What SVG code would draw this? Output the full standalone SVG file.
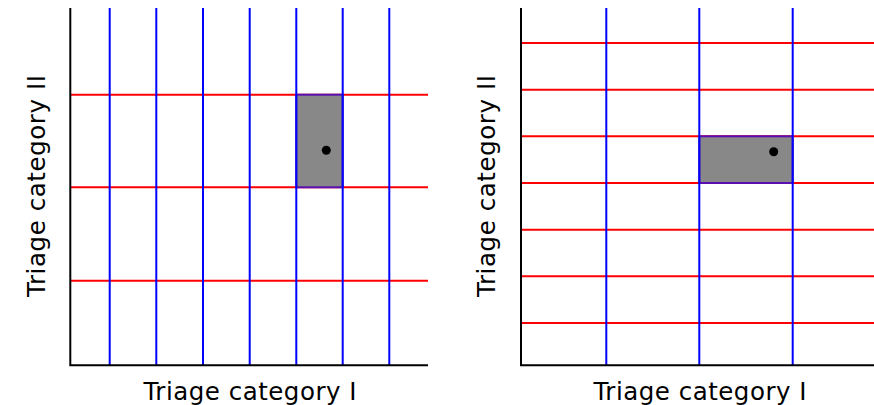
<svg xmlns="http://www.w3.org/2000/svg" width="874" height="405" viewBox="0 0 874 405">
  <style>
    .axis { stroke: #000; stroke-width: 2; fill: none; }
    .vline { stroke: #0000ff; stroke-width: 2; }
    .hline { stroke: #ff0000; stroke-width: 2; }
    .cell { fill: #888888; stroke: #5a10b0; stroke-width: 2; }
    .pt { fill: #000; }
    .lbl { font-family: "DejaVu Sans", Verdana, sans-serif; font-size: 24.5px; fill: #000; }
  </style>
  <rect width="874" height="405" fill="#fff"/>

  <!-- Left chart: fine split on category I, coarse on category II -->
  <g id="left-chart">
    <g id="left-hlines">
      <line class="hline" x1="70" y1="94.7" x2="428" y2="94.7"/>
      <line class="hline" x1="70" y1="187.3" x2="428" y2="187.3"/>
      <line class="hline" x1="70" y1="280.7" x2="428" y2="280.7"/>
    </g>
    <g id="left-cell">
      <rect class="cell" x="296.3" y="94.7" width="46.4" height="92.6"/>
      <circle class="pt" cx="326.3" cy="150.3" r="4.5"/>
    </g>
    <g id="left-vlines">
      <line class="vline" x1="109.7" y1="8" x2="109.7" y2="365"/>
      <line class="vline" x1="156.3" y1="8" x2="156.3" y2="365"/>
      <line class="vline" x1="203" y1="8" x2="203" y2="365"/>
      <line class="vline" x1="249.7" y1="8" x2="249.7" y2="365"/>
      <line class="vline" x1="296.3" y1="8" x2="296.3" y2="365"/>
      <line class="vline" x1="342.7" y1="8" x2="342.7" y2="365"/>
      <line class="vline" x1="389.3" y1="8" x2="389.3" y2="365"/>
    </g>
    <g id="left-axes">
      <path class="axis" d="M70.3 8 V365.3 H428"/>
    </g>
    <text class="lbl" x="250" y="400.3" text-anchor="middle" textLength="213" lengthAdjust="spacing">Triage category I</text>
    <text class="lbl" transform="translate(44.5 186) rotate(-90)" x="0" y="0" text-anchor="middle" textLength="222" lengthAdjust="spacing">Triage category II</text>
  </g>

  <!-- Right chart: coarse split on category I, fine on category II -->
  <g id="right-chart">
    <g id="right-hlines">
      <line class="hline" x1="521" y1="43" x2="874" y2="43"/>
      <line class="hline" x1="521" y1="89.7" x2="874" y2="89.7"/>
      <line class="hline" x1="521" y1="136.3" x2="874" y2="136.3"/>
      <line class="hline" x1="521" y1="183" x2="874" y2="183"/>
      <line class="hline" x1="521" y1="229.7" x2="874" y2="229.7"/>
      <line class="hline" x1="521" y1="276.3" x2="874" y2="276.3"/>
      <line class="hline" x1="521" y1="323" x2="874" y2="323"/>
    </g>
    <g id="right-cell">
      <rect class="cell" x="699.3" y="136.3" width="93.4" height="46.7"/>
      <circle class="pt" cx="773.7" cy="151.7" r="4.5"/>
    </g>
    <g id="right-vlines">
      <line class="vline" x1="606.3" y1="8" x2="606.3" y2="365"/>
      <line class="vline" x1="699.3" y1="8" x2="699.3" y2="365"/>
      <line class="vline" x1="792.7" y1="8" x2="792.7" y2="365"/>
    </g>
    <g id="right-axes">
      <path class="axis" d="M521 8 V365.3 H874"/>
    </g>
    <text class="lbl" x="700" y="400.3" text-anchor="middle" textLength="213" lengthAdjust="spacing">Triage category I</text>
    <text class="lbl" transform="translate(494.5 186) rotate(-90)" x="0" y="0" text-anchor="middle" textLength="222" lengthAdjust="spacing">Triage category II</text>
  </g>
</svg>
